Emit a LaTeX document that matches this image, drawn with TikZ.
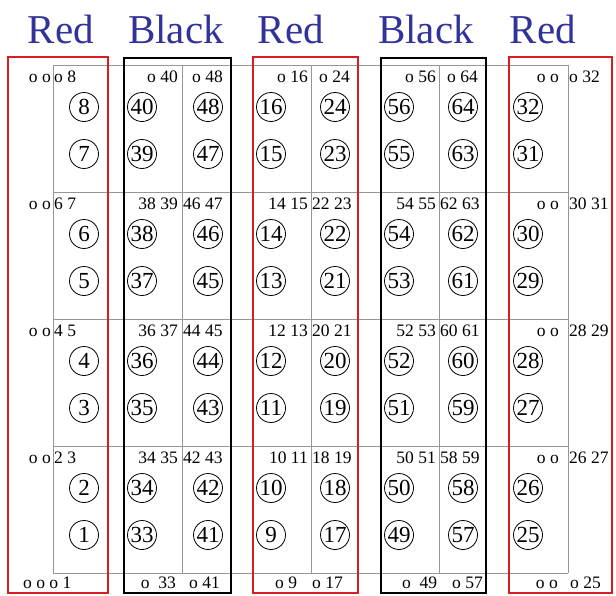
\documentclass[tikz,border=0pt]{standalone}
\usepackage{fontspec}
\setmainfont{Liberation Serif}
\definecolor{boxred}{RGB}{215,30,35}
\definecolor{titleblue}{RGB}{50,50,155}
\definecolor{gridgrey}{RGB}{150,150,150}
\begin{document}
\begin{tikzpicture}[x=1pt,y=-1pt,
  title/.style={font=\fontsize{41}{41}\selectfont, text=titleblue, anchor=base, inner sep=0pt},
  num/.style={circle, draw, line width=0.8pt, minimum size=29pt, inner sep=0pt, font=\fontsize{23}{23}\selectfont},
  lab/.style={font=\fontsize{17.5}{17.5}\selectfont, inner sep=0pt},
  redbox/.style={draw=boxred, line width=2.8pt},
  blackbox/.style={draw=black, line width=2.8pt},
  gridline/.style={draw=gridgrey, line width=0.9pt}]
\useasboundingbox (0,0) rectangle (616,595);
% grid
\foreach \yy in {65,192,319,446,573} \draw[gridline] (53,\yy) -- (568,\yy);
\foreach \xx in {53,182,311,439,568} \draw[gridline] (\xx,65) -- (\xx,573);
% column boxes
\draw[redbox] (8,57) rectangle (108,593);
\draw[blackbox] (124,58) rectangle (231,593);
\draw[redbox] (253,57) rectangle (358,593);
\draw[blackbox] (381,58) rectangle (486,593);
\draw[redbox] (509,57) rectangle (612,593);
% titles
\node[title] (t1) at (61,43) {Red};
\node[title] (t2) at (176,43) {Black};
\node[title] (t3) at (291,43) {Red};
\node[title] (t4) at (426,43) {Black};
\node[title] (t5) at (543,43) {Red};
% circled numbers
\foreach \x/\b in {84/0, 142/32, 208/40, 271/8, 335/16, 399/48, 463/56, 528/24} {
  \foreach \r in {0,1,2,3} {
    \pgfmathtruncatemacro\up{\b+8-2*\r}
    \pgfmathtruncatemacro\lo{\b+7-2*\r}
    \pgfmathsetmacro\yu{65+127*\r+42}
    \pgfmathsetmacro\yl{65+127*\r+89}
    \node[num] (c\up) at (\x,\yu) {\up};
    \node[num] (c\lo) at (\x,\yl) {\lo};
  }
}
% row 0 labels
\node[lab, anchor=base east] (l0a) at (51,82) {o o};
\node[lab, anchor=base west] (l0b) at (54,82) {o 8};
\node[lab, anchor=base east] (l0c) at (178,82) {o 40};
\node[lab, anchor=base west] (l0d) at (192,82) {o 48};
\node[lab, anchor=base east] (l0e) at (308,82) {o 16};
\node[lab, anchor=base west] (l0f) at (319,82) {o 24};
\node[lab, anchor=base east] (l0g) at (436,82) {o 56};
\node[lab, anchor=base west] (l0h) at (447,82) {o 64};
\node[lab, anchor=base east] (l0i) at (559,82) {o o};
\node[lab, anchor=base west] (l0j) at (569,82) {o 32};
% rows 1-3 labels
\foreach \r in {1,2,3} {
  \pgfmathsetmacro\yb{65+127*\r+17}
  \node[lab, anchor=base east] (l\r x) at (51,\yb) {o o};
  \node[lab, anchor=base east] (l\r y) at (559,\yb) {o o};
  \foreach \xx/\anc/\b/\k in {54/west/0/a, 178/east/32/b, 183/west/40/c, 308/east/8/d, 312/west/16/e, 436/east/48/f, 440/west/56/g, 569/west/24/h} {
    \pgfmathtruncatemacro\na{\b+8-2*\r}
    \pgfmathtruncatemacro\nb{\b+9-2*\r}
    \node[lab, anchor=base \anc] (l\r\k) at (\xx,\yb) {\na\ \nb};
  }
}
% bottom labels
\node[lab, anchor=base west] (lba) at (23,588) {o o o 1};
\node[lab, anchor=base east] (lbb) at (176,588) {o\enspace 33};
\node[lab, anchor=base west] (lbc) at (189,588) {o 41};
\node[lab, anchor=base west] (lbd) at (275,588) {o 9};
\node[lab, anchor=base west] (lbe) at (312,588) {o 17};
\node[lab, anchor=base west] (lbf) at (402,588) {o\enspace 49};
\node[lab, anchor=base west] (lbg) at (452,588) {o 57};
\node[lab, anchor=base east] (lbh) at (558,588) {o o};
\node[lab, anchor=base west] (lbi) at (570,588) {o 25};
\end{tikzpicture}
\end{document}
